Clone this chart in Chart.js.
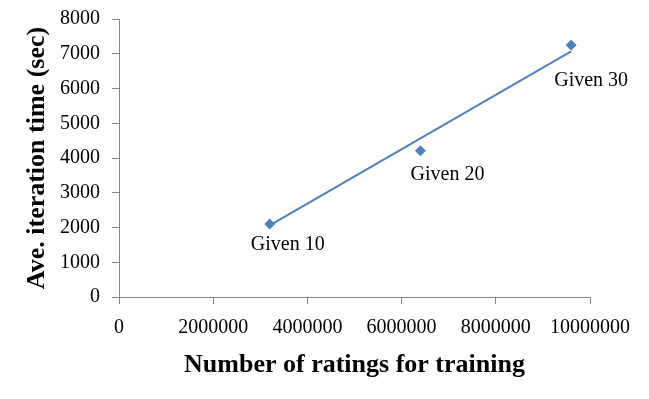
<!DOCTYPE html>
<html>
<head>
<meta charset="utf-8">
<script src="https://cdn.jsdelivr.net/npm/chart.js@4/dist/chart.umd.min.js"></script>
<style>
  html, body { margin: 0; padding: 0; background: #fff; }
</style>
</head>
<body>
<canvas id="training_time" width="649" height="399"></canvas>
<script>
  const ratingCounts = [3200000, 6400000, 9600000]
  const iterationTimes = [2100, 4210, 7250]
  const pointLabels = ["Given 10", "Given 20", "Given 30"]
  // where excel put its linear trendline
  const trendCounts = [3200000, 9600000]
  const trendTimes = [2060, 7070]

  const xTitle = "Number of ratings for training"
  const yTitle = "Ave. iteration time (sec)"

  const seriesColor = "#4F81BD"
  const axisColor = "#868686"
  const serif = "'Liberation Serif', 'Times New Roman', serif"

  // label offsets from their point, in px
  const labelOffsets = [[18, 21], [27, 24], [20, 36]]

  const pointLabelPlugin = {
    id: "pointLabels",
    afterDatasetsDraw(chart) {
      const ctx = chart.ctx
      const xScale = chart.scales.x
      const yScale = chart.scales.y
      ctx.save()
      ctx.font = "20px " + serif
      ctx.fillStyle = "#000"
      ctx.textAlign = "center"
      ctx.textBaseline = "middle"
      pointLabels.forEach((label, i) => {
        const px = xScale.getPixelForValue(ratingCounts[i])
        const py = yScale.getPixelForValue(iterationTimes[i])
        ctx.fillText(label, px + labelOffsets[i][0], py + labelOffsets[i][1])
      })
      ctx.restore()
    }
  }

  const axisTicks = {
    color: "#000",
    font: { family: serif, size: 20 },
    callback: value => String(value)
  }

  new Chart(document.getElementById("training_time").getContext("2d"), {
    type: "scatter",
    data: {
      datasets: [{
        label: "Iteration time",
        data: ratingCounts.map((c, i) => ({ x: c, y: iterationTimes[i] })),
        pointStyle: "rectRot",
        pointRadius: 5.5,
        backgroundColor: seriesColor,
        borderColor: seriesColor,
        borderWidth: 0,
        showLine: false
      }, {
        label: "Linear trend",
        data: trendCounts.map((c, i) => ({ x: c, y: trendTimes[i] })),
        showLine: true,
        borderColor: seriesColor,
        borderWidth: 2,
        pointRadius: 0
      }]
    },
    options: {
      responsive: false,
      animation: false,
      layout: { padding: { left: 0, top: 19, right: 59, bottom: 0 } },
      plugins: {
        legend: { display: false },
        tooltip: { enabled: false }
      },
      scales: {
        x: {
          type: "linear",
          min: 0,
          max: 10000000,
          afterFit: scale => { scale.height = 102 },
          ticks: { ...axisTicks, stepSize: 2000000, padding: 12, maxRotation: 0 },
          grid: { drawOnChartArea: false, tickLength: 7, color: axisColor, tickColor: axisColor },
          border: { color: axisColor, width: 1 },
          title: {
            display: true,
            text: xTitle,
            color: "#000",
            font: { family: serif, size: 26, weight: "bold" },
            padding: { top: 0, bottom: 18 }
          }
        },
        y: {
          min: 0,
          max: 8000,
          afterFit: scale => {
            scale.width = 119
            // the 8000 label may stick out above the plot, like in excel
            scale.paddingTop = 0
          },
          ticks: { ...axisTicks, stepSize: 1000, padding: 12 },
          grid: { drawOnChartArea: false, tickLength: 7, color: axisColor, tickColor: axisColor },
          border: { color: axisColor, width: 1 },
          title: {
            display: true,
            text: yTitle,
            color: "#000",
            font: { family: serif, size: 26, weight: "bold" },
            padding: { top: 22, bottom: 0 }
          }
        }
      }
    },
    plugins: [pointLabelPlugin]
  })
</script>
</body>
</html>
